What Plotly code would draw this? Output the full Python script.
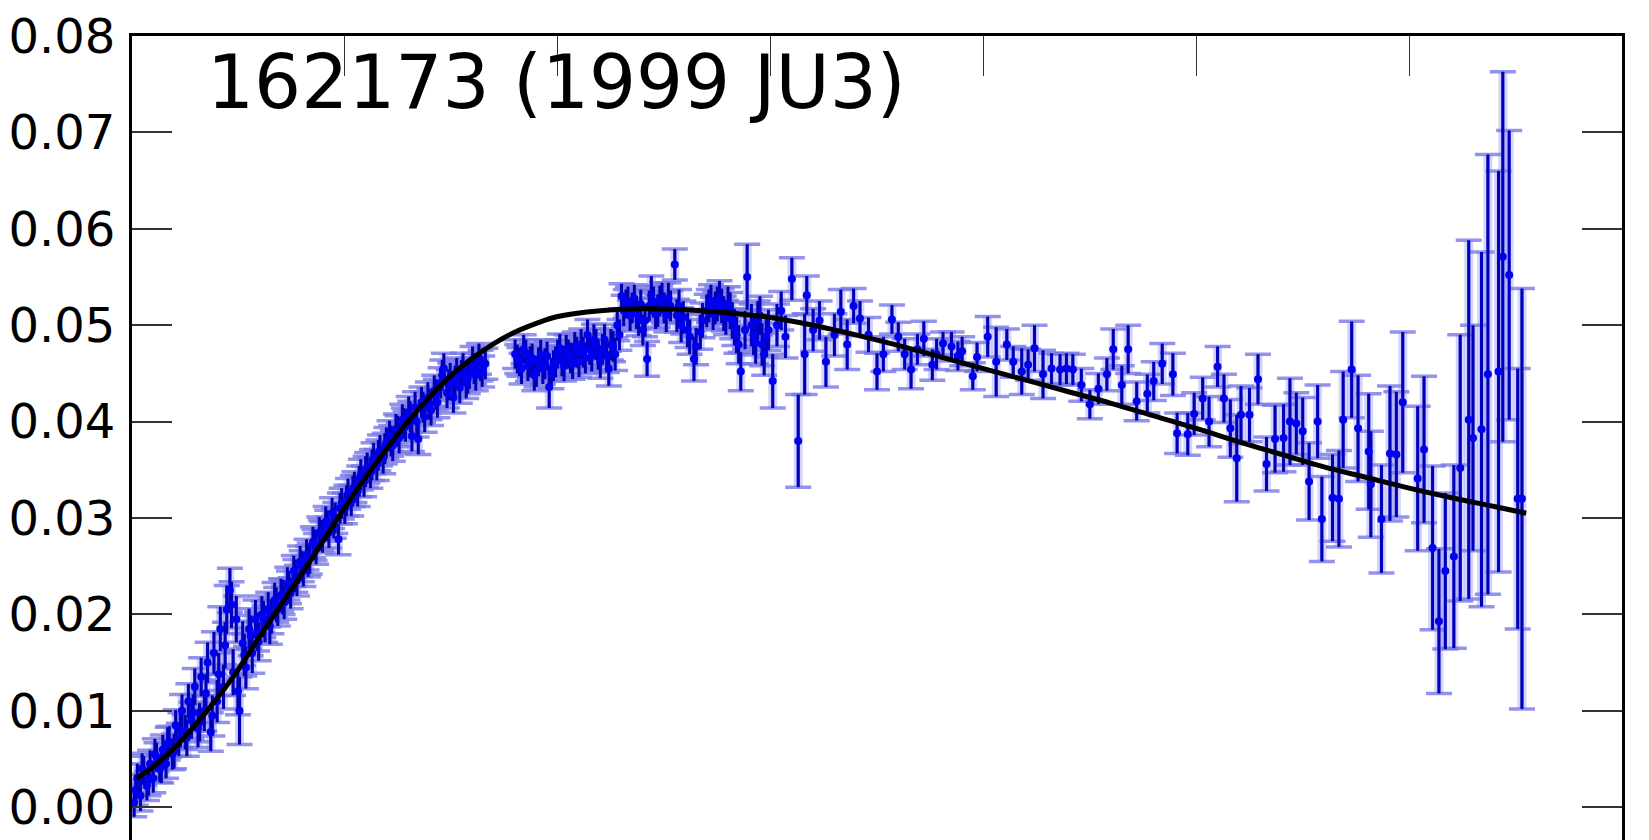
import plotly.graph_objects as go

# ---- data ----
rise_x = [0.01, 0.025, 0.04, 0.055, 0.07, 0.085, 0.10, 0.115, 0.13, 0.145, 0.16, 0.175, 0.19, 0.205,
          0.22, 0.235, 0.25, 0.265, 0.28, 0.295, 0.31, 0.325, 0.34, 0.355, 0.37, 0.385, 0.40, 0.415,
          0.43, 0.445, 0.46, 0.475, 0.49, 0.505, 0.52, 0.535, 0.55, 0.565, 0.58, 0.595, 0.61, 0.625,
          0.64, 0.655, 0.67, 0.685, 0.70, 0.715, 0.73, 0.745, 0.76, 0.775, 0.79, 0.805, 0.82, 0.835,
          0.85, 0.865, 0.88, 0.895, 0.91, 0.925, 0.94, 0.955, 0.97, 0.985, 1.00, 1.015, 1.03, 1.045,
          1.06, 1.075, 1.09, 1.105, 1.12, 1.135, 1.15, 1.165, 1.18, 1.195, 1.21, 1.225, 1.24, 1.255,
          1.27, 1.285, 1.30, 1.315, 1.33, 1.345, 1.36, 1.375, 1.39, 1.405, 1.42, 1.435, 1.45, 1.465,
          1.48, 1.495, 1.51, 1.525, 1.54, 1.555, 1.57, 1.585, 1.60, 1.615, 1.63, 1.645, 1.66]
rise_y = [0.0005, 0.0030, 0.0012, 0.0038, 0.0022, 0.0045, 0.0030, 0.0052, 0.0040, 0.0060, 0.0045, 0.0068,
          0.0055, 0.0085, 0.0070, 0.0100, 0.0078, 0.0110, 0.0090, 0.0125, 0.0082, 0.0135, 0.0100, 0.0150,
          0.0078, 0.0160, 0.0110, 0.0185, 0.0125, 0.0205, 0.0225, 0.0140, 0.0195, 0.0100, 0.0170, 0.0145,
          0.0185, 0.0160, 0.0195, 0.0172, 0.0200, 0.0190, 0.0205, 0.0198, 0.0215, 0.0205, 0.0220, 0.0212,
          0.0232, 0.0222, 0.0245, 0.0235, 0.0255, 0.0245, 0.0262, 0.0258, 0.0275, 0.0268, 0.0285, 0.0280,
          0.0296, 0.0285, 0.0305, 0.0300, 0.0278, 0.0315, 0.0310, 0.0325, 0.0318, 0.0332, 0.0328, 0.0345,
          0.0338, 0.0352, 0.0347, 0.0362, 0.0355, 0.0370, 0.0362, 0.0378, 0.0385, 0.0375, 0.0392, 0.0383,
          0.0402, 0.0395, 0.0410, 0.0385, 0.0415, 0.0382, 0.0420, 0.0405, 0.0425, 0.0412, 0.0432, 0.0420,
          0.0440, 0.0455, 0.0430, 0.0445, 0.0425, 0.0450, 0.0435, 0.0455, 0.0440, 0.0450, 0.0462, 0.0448,
          0.0465, 0.0452, 0.0460]
rise_e = [0.0015, 0.0015, 0.0016, 0.0015, 0.0015, 0.0014, 0.0015, 0.0015, 0.0014, 0.0015, 0.0015, 0.0016,
          0.0016, 0.0016, 0.0017, 0.0017, 0.0018, 0.0018, 0.0019, 0.0019, 0.0020, 0.0020, 0.0021, 0.0021,
          0.0020, 0.0022, 0.0022, 0.0023, 0.0023, 0.0025, 0.0023, 0.0024, 0.0024, 0.0035, 0.0023, 0.0022,
          0.0021, 0.0021, 0.0020, 0.0020, 0.0019, 0.0019, 0.0018, 0.0018, 0.0018, 0.0017, 0.0017, 0.0017,
          0.0017, 0.0016, 0.0016, 0.0016, 0.0016, 0.0016, 0.0016, 0.0016, 0.0016, 0.0016, 0.0016, 0.0016,
          0.0016, 0.0016, 0.0016, 0.0016, 0.0016, 0.0016, 0.0016, 0.0016, 0.0016, 0.0016, 0.0016, 0.0016,
          0.0016, 0.0016, 0.0016, 0.0016, 0.0016, 0.0016, 0.0016, 0.0016, 0.0016, 0.0016, 0.0016, 0.0016,
          0.0016, 0.0016, 0.0016, 0.0016, 0.0016, 0.0016, 0.0016, 0.0016, 0.0016, 0.0016, 0.0016, 0.0016,
          0.0016, 0.0016, 0.0016, 0.0016, 0.0016, 0.0016, 0.0016, 0.0016, 0.0016, 0.0016, 0.0016, 0.0016,
          0.0016, 0.0016, 0.0016]

rise2_x = [0.0175, 0.0475, 0.0775, 0.1075, 0.1375, 0.1675, 0.1975, 0.2275, 0.2575, 0.2875, 0.3175,
           0.3475, 0.3775, 0.4075, 0.4375, 0.4675, 0.4975, 0.5275, 0.5575, 0.5875, 0.6175, 0.6475,
           0.6775, 0.7075, 0.7375, 0.7675, 0.7975, 0.8275, 0.8575, 0.8875, 0.9175, 0.9475, 0.9775,
           1.0075, 1.0375, 1.0675, 1.0975, 1.1275, 1.1575, 1.1875, 1.2175, 1.2475, 1.2775, 1.3075,
           1.3375, 1.3675, 1.3975, 1.4275, 1.4575, 1.4875, 1.5175, 1.5475, 1.5775, 1.6075, 1.6375]
rise2_y = [0.0018, 0.0040, 0.0028, 0.0055, 0.0042, 0.0066, 0.0058, 0.0080, 0.0072, 0.0098, 0.0088,
           0.0118, 0.0095, 0.0138, 0.0168, 0.0210, 0.0120, 0.0158, 0.0178, 0.0182, 0.0195, 0.0188,
           0.0210, 0.0218, 0.0228, 0.0240, 0.0250, 0.0255, 0.0272, 0.0282, 0.0292, 0.0295, 0.0310,
           0.0318, 0.0328, 0.0338, 0.0348, 0.0355, 0.0365, 0.0372, 0.0380, 0.0390, 0.0398, 0.0405,
           0.0400, 0.0415, 0.0418, 0.0428, 0.0448, 0.0438, 0.0442, 0.0448, 0.0445, 0.0455, 0.0458]
rise2_e = [0.0016, 0.0016, 0.0016, 0.0016, 0.0017, 0.0017, 0.0018, 0.0018, 0.0019, 0.0019, 0.0020,
           0.0020, 0.0021, 0.0022, 0.0024, 0.0024, 0.0024, 0.0022, 0.0021, 0.0020, 0.0019, 0.0019,
           0.0018, 0.0018, 0.0017, 0.0017, 0.0016, 0.0016, 0.0016, 0.0016, 0.0016, 0.0016, 0.0016,
           0.0016, 0.0016, 0.0016, 0.0016, 0.0016, 0.0016, 0.0016, 0.0016, 0.0016, 0.0016, 0.0016,
           0.0016, 0.0016, 0.0016, 0.0016, 0.0016, 0.0016, 0.0016, 0.0016, 0.0016, 0.0016, 0.0016]

mid2_x = [1.81, 1.83, 1.85, 1.87, 1.89, 1.91, 1.93, 1.95, 1.97, 1.99, 2.01, 2.03, 2.05, 2.07, 2.09, 2.11,
          2.13, 2.15, 2.17, 2.19, 2.21, 2.23, 2.25, 2.27, 2.29, 2.31, 2.33, 2.35, 2.37, 2.39, 2.41, 2.43,
          2.45, 2.47, 2.49, 2.51, 2.53, 2.56, 2.58, 2.62, 2.65, 2.68, 2.71, 2.73, 2.75, 2.77, 2.79, 2.81,
          2.83, 2.85, 2.88, 2.92, 2.94, 2.96, 2.98]
mid2_y = [0.0465, 0.0455, 0.0470, 0.0462, 0.0448, 0.0462, 0.0455, 0.0468, 0.0450, 0.0462, 0.0476, 0.0458,
          0.0470, 0.0460, 0.0472, 0.0480, 0.0466, 0.0475, 0.0485, 0.0470, 0.0475, 0.0468, 0.0480, 0.0470,
          0.0490, 0.0515, 0.0525, 0.0518, 0.0512, 0.0522, 0.0505, 0.0520, 0.0524, 0.0515, 0.0528, 0.0510,
          0.0520, 0.0510, 0.0500, 0.0488, 0.0478, 0.0505, 0.0520, 0.0512, 0.0522, 0.0520, 0.0508, 0.0515,
          0.0498, 0.0480, 0.0495, 0.0490, 0.0505, 0.0480, 0.0488]
mid2_e = [0.0015, 0.0016, 0.0015, 0.0016, 0.0016, 0.0015, 0.0016, 0.0015, 0.0016, 0.0016, 0.0015, 0.0016,
          0.0015, 0.0016, 0.0016, 0.0016, 0.0016, 0.0016, 0.0016, 0.0016, 0.0016, 0.0017, 0.0016, 0.0017,
          0.0016, 0.0016, 0.0015, 0.0016, 0.0016, 0.0015, 0.0017, 0.0016, 0.0016, 0.0017, 0.0016, 0.0017,
          0.0016, 0.0017, 0.0018, 0.0018, 0.0019, 0.0018, 0.0017, 0.0017, 0.0018, 0.0018, 0.0018, 0.0019,
          0.0019, 0.0020, 0.0020, 0.0021, 0.0020, 0.0022, 0.0021]

tail_x = [1.80, 1.82, 1.84, 1.86, 1.88, 1.90, 1.92, 1.94, 1.96, 1.98, 2.00, 2.02, 2.04, 2.06, 2.08, 2.10,
          2.12, 2.14, 2.16, 2.18, 2.20, 2.22, 2.24, 2.26, 2.28, 2.30, 2.32, 2.34, 2.36, 2.38, 2.40, 2.42,
          2.44, 2.46, 2.48, 2.50, 2.52, 2.55, 2.57, 2.59, 2.61, 2.64, 2.67, 2.70, 2.72, 2.74, 2.76, 2.78,
          2.80, 2.82, 2.84, 2.86, 2.89, 2.91, 2.93, 2.95, 2.97, 2.99, 3.01, 3.03, 3.05, 3.07, 3.10, 3.13,
          3.16, 3.17, 3.20, 3.23, 3.26, 3.30, 3.33, 3.36, 3.39, 3.42, 3.46, 3.50, 3.53, 3.57, 3.60, 3.63,
          3.66, 3.69, 3.72, 3.76, 3.78, 3.81, 3.85, 3.88, 3.90, 3.95, 3.97, 4.02, 4.06, 4.11, 4.14, 4.18,
          4.21, 4.24, 4.28, 4.32, 4.36, 4.39, 4.42, 4.46, 4.50, 4.54, 4.58, 4.61, 4.65, 4.68, 4.72, 4.77,
          4.80, 4.84, 4.89, 4.91, 4.96, 4.99, 5.03, 5.06, 5.10, 5.13, 5.16, 5.19, 5.21, 5.25, 5.29, 5.33,
          5.37, 5.41, 5.44, 5.47, 5.50, 5.53, 5.57, 5.59, 5.64, 5.67, 5.69, 5.73, 5.76, 5.81, 5.82, 5.87,
          5.91, 5.94, 5.97, 6.04, 6.07, 6.11, 6.14, 6.17, 6.21, 6.24, 6.28, 6.30, 6.34, 6.37, 6.42, 6.44,
          6.47, 6.51, 6.53]
tail_y = [0.0470, 0.0462, 0.0475, 0.0458, 0.0466, 0.0452, 0.0470, 0.0460, 0.0436, 0.0458, 0.0470, 0.0463,
          0.0475, 0.0466, 0.0478, 0.0462, 0.0472, 0.0490, 0.0468, 0.0480, 0.0462, 0.0485, 0.0455, 0.0478,
          0.0500, 0.0530, 0.0522, 0.0510, 0.0528, 0.0505, 0.0495, 0.0465, 0.0531, 0.0512, 0.0525, 0.0518,
          0.0528, 0.0563, 0.0520, 0.0508, 0.0495, 0.0465, 0.0493, 0.0515, 0.0525, 0.0518, 0.0528, 0.0512,
          0.0522, 0.0505, 0.0490, 0.0452, 0.0550, 0.0500, 0.0482, 0.0510, 0.0470, 0.0495, 0.0442, 0.0500,
          0.0515, 0.0488, 0.0548, 0.0380, 0.0470, 0.0531, 0.0495, 0.0505, 0.0462, 0.0490, 0.0514, 0.0480,
          0.0520, 0.0507, 0.0490, 0.0452, 0.0470, 0.0506, 0.0488, 0.0470, 0.0454, 0.0475, 0.0486, 0.0459,
          0.0470, 0.0481, 0.0478, 0.0468, 0.0473, 0.0447, 0.0467, 0.0488, 0.0462, 0.0480, 0.0462, 0.0452,
          0.0459, 0.0476, 0.0449, 0.0455, 0.0454, 0.0455, 0.0454, 0.0438, 0.0418, 0.0434, 0.0449, 0.0475,
          0.0438, 0.0475, 0.0421, 0.0429, 0.0442, 0.0460, 0.0449, 0.0388, 0.0387, 0.0408, 0.0424, 0.0400,
          0.0457, 0.0424, 0.0393, 0.0362, 0.0407, 0.0407, 0.0444, 0.0356, 0.0382, 0.0383, 0.0400, 0.0398,
          0.0390, 0.0338, 0.0400, 0.0299, 0.0321, 0.0320, 0.0402, 0.0454, 0.0393, 0.0369, 0.0335, 0.0299,
          0.0367, 0.0366, 0.0420, 0.0341, 0.0371, 0.0269, 0.0193, 0.0245, 0.0260, 0.0352, 0.0402, 0.0383,
          0.0392, 0.0449, 0.0452, 0.0571, 0.0552, 0.0320, 0.0320]
tail_e = [0.0015, 0.0015, 0.0015, 0.0016, 0.0015, 0.0016, 0.0015, 0.0016, 0.0022, 0.0016, 0.0015, 0.0016,
          0.0015, 0.0016, 0.0015, 0.0016, 0.0016, 0.0016, 0.0016, 0.0016, 0.0017, 0.0016, 0.0018, 0.0016,
          0.0016, 0.0013, 0.0015, 0.0016, 0.0014, 0.0016, 0.0016, 0.0018, 0.0020, 0.0016, 0.0016, 0.0016,
          0.0016, 0.0016, 0.0017, 0.0017, 0.0018, 0.0023, 0.0018, 0.0017, 0.0017, 0.0017, 0.0018, 0.0018,
          0.0018, 0.0019, 0.0019, 0.0020, 0.0034, 0.0022, 0.0022, 0.0020, 0.0022, 0.0021, 0.0028, 0.0022,
          0.0020, 0.0022, 0.0022, 0.0048, 0.0042, 0.0020, 0.0022, 0.0020, 0.0026, 0.0022, 0.0023, 0.0026,
          0.0018, 0.0018, 0.0018, 0.0019, 0.0018, 0.0015, 0.0015, 0.0016, 0.0020, 0.0016, 0.0018, 0.0016,
          0.0016, 0.0012, 0.0015, 0.0015, 0.0015, 0.0014, 0.0015, 0.0021, 0.0036, 0.0016, 0.0016, 0.0024,
          0.0016, 0.0024, 0.0025, 0.0016, 0.0016, 0.0016, 0.0016, 0.0017, 0.0015, 0.0016, 0.0017, 0.0021,
          0.0020, 0.0025, 0.0020, 0.0020, 0.0020, 0.0021, 0.0022, 0.0021, 0.0022, 0.0022, 0.0022, 0.0026,
          0.0021, 0.0025, 0.0030, 0.0045, 0.0030, 0.0028, 0.0026, 0.0028, 0.0035, 0.0035, 0.0045, 0.0032,
          0.0035, 0.0040, 0.0038, 0.0044, 0.0045, 0.0050, 0.0050, 0.0050, 0.0055, 0.0060, 0.0055, 0.0056,
          0.0070, 0.0065, 0.0073, 0.0075, 0.0076, 0.0085, 0.0075, 0.0081, 0.0095, 0.0138, 0.0186, 0.0117,
          0.0184, 0.0228, 0.0208, 0.0192, 0.0150, 0.0135, 0.0218]

fit_x = [0.02, 0.1, 0.2, 0.3, 0.4, 0.5, 0.6, 0.7, 0.8, 0.9, 1.0, 1.1, 1.2, 1.3, 1.4, 1.5, 1.6, 1.7, 1.8,
         1.9, 2.0, 2.2, 2.4, 2.6, 2.8, 3.0, 3.2, 3.4, 3.6, 3.8, 4.0, 4.2, 4.4, 4.6, 4.8, 5.0, 5.2, 5.4,
         5.6, 5.8, 6.0, 6.2, 6.4, 6.55]
fit_y = [0.0030, 0.0042, 0.0062, 0.0086, 0.0113, 0.0143, 0.0177, 0.0210, 0.0243, 0.0277, 0.0311, 0.0343,
         0.0373, 0.0401, 0.0426, 0.0448, 0.0466, 0.0481, 0.0493, 0.0502, 0.0509, 0.0515, 0.0517, 0.0516,
         0.0513, 0.0508, 0.0500, 0.0490, 0.0479, 0.0467, 0.0455, 0.0443, 0.0431, 0.0419, 0.0406, 0.0393,
         0.0379, 0.0366, 0.0353, 0.0342, 0.0331, 0.0321, 0.0312, 0.0305]

title_text = "162173 (1999 JU3)"
y_ticks = [0.00, 0.01, 0.02, 0.03, 0.04, 0.05, 0.06, 0.07, 0.08]
x_ticks = [1, 2, 3, 4, 5, 6]

# ---- figure ----
all_x = rise_x + rise2_x + mid2_x + tail_x
all_y = rise_y + rise2_y + mid2_y + tail_y
all_e = rise_e + rise2_e + mid2_e + tail_e

fig = go.Figure()
# light halo of the error bars
fig.add_trace(go.Scatter(
    x=all_x, y=all_y, mode="markers",
    marker=dict(size=1, color="rgba(0,0,0,0)"),
    error_y=dict(type="data", array=all_e, visible=True, thickness=9, width=0,
                 color="rgba(60,60,255,0.22)"),
    hoverinfo="skip", showlegend=False))
# caps
fig.add_trace(go.Scatter(
    x=all_x, y=all_y, mode="markers",
    marker=dict(size=1, color="rgba(0,0,0,0)"),
    error_y=dict(type="data", array=all_e, visible=True, thickness=3.5, width=13,
                 color="rgba(120,120,230,0.8)"),
    hoverinfo="skip", showlegend=False))
# dark core of the error bars + markers
fig.add_trace(go.Scatter(
    x=all_x, y=all_y, mode="markers",
    marker=dict(size=8, color="#0000ee", line=dict(width=0)),
    error_y=dict(type="data", array=all_e, visible=True, thickness=3, width=0,
                 color="#0000b8"),
    showlegend=False))
# model curve
fig.add_trace(go.Scatter(
    x=fit_x, y=fit_y, mode="lines", line=dict(color="black", width=5, shape="spline"),
    showlegend=False))

fig.add_annotation(
    text=title_text, xref="paper", yref="paper", x=0.049, y=0.943,
    xanchor="left", yanchor="middle", showarrow=False,
    font=dict(family="DejaVu Sans", size=74, color="black"))

fig.update_layout(
    width=1641, height=832,
    margin=dict(l=124, r=27, t=26, b=0),
    paper_bgcolor="white", plot_bgcolor="white",
    font=dict(family="DejaVu Sans", color="black"),
    xaxis=dict(range=[0, 7], side="top", showline=True, linewidth=3, linecolor="black",
               mirror=False, ticks="inside", ticklen=40, tickwidth=1, tickcolor="#333",
               tickvals=x_ticks, showticklabels=False, showgrid=False, zeroline=False),
    yaxis=dict(range=[-0.0034, 0.08], showline=True, linewidth=3, linecolor="black",
               mirror="ticks", ticks="inside", ticklen=40, tickwidth=2, tickcolor="#333",
               tickvals=y_ticks, ticktext=["%.2f" % v for v in y_ticks],
               tickfont=dict(family="DejaVu Sans", size=48, color="black"),
               ticklabelstandoff=4, ticklabeloverflow="allow",
               showgrid=False, zeroline=False),
)

fig.write_html("out.html")
